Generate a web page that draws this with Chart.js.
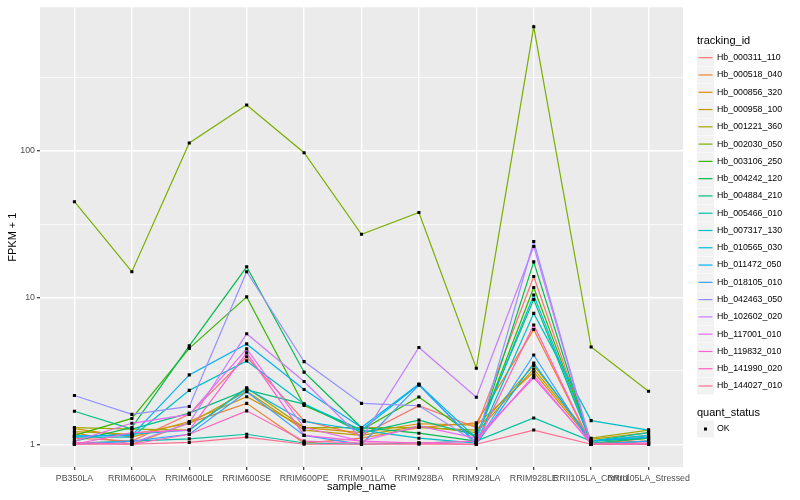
<!DOCTYPE html>
<html>
<head>
<meta charset="utf-8">
<script src="https://cdn.jsdelivr.net/npm/chart.js@4.4.0/dist/chart.umd.min.js"></script>
<style>
  html, body { margin: 0; background: #fff; }
  #wrap { width: 800px; height: 500px; }
</style>
</head>
<body>
<div id="wrap"><canvas id="chart" width="800" height="500"></canvas></div>
<script>
const categories = ["PB350LA", "RRIM600LA", "RRIM600LE", "RRIM600SE", "RRIM600PE", "RRIM901LA",
  "RRIM928BA", "RRIM928LA", "RRIM928LE", "RRII105LA_Control", "RRII105LA_Stressed"];

const trackingIds = ["Hb_000311_110", "Hb_000518_040", "Hb_000856_320", "Hb_000958_100", "Hb_001221_360",
  "Hb_002030_050", "Hb_003106_250", "Hb_004242_120", "Hb_004884_210", "Hb_005466_010",
  "Hb_007317_130", "Hb_010565_030", "Hb_011472_050", "Hb_018105_010", "Hb_042463_050",
  "Hb_102602_020", "Hb_117001_010", "Hb_119832_010", "Hb_141990_020", "Hb_144027_010"];

const colours = ["#F8766D", "#EA8331", "#D89000", "#C09B00", "#A3A500", "#7CAE00", "#39B600", "#00BB4E",
  "#00BF7D", "#00C1A3", "#00BFC4", "#00BAE0", "#00B0F6", "#35A2FF", "#9590FF", "#C77CFF",
  "#E76BF3", "#FA62DB", "#FF62BC", "#FF6C91"];

// FPKM + 1 per sample, one array per gene
const hb000311 = [1.10, 1.05, 1.60, 3.95, 1.45, 1.15, 1.83, 1.30, 13.9, 1.02, 1.05];
const hb000518 = [1.20, 1.00, 1.40, 1.90, 1.02, 1.10, 1.30, 1.40, 6.05, 1.00, 1.10];
const hb000856 = [1.28, 1.12, 1.43, 2.11, 1.30, 1.20, 1.38, 1.35, 3.10, 1.05, 1.15];
const hb000958 = [1.22, 1.17, 1.39, 2.30, 1.25, 1.15, 1.33, 1.20, 3.26, 1.08, 1.20];
const hb001221 = [1.30, 1.27, 1.25, 2.43, 1.30, 1.30, 1.30, 1.25, 3.45, 1.10, 1.25];
const hb002030 = [45, 15, 113, 205, 97, 27, 38, 3.3, 700, 4.6, 2.3];
const hb003106 = [1.15, 1.50, 4.50, 10.1, 1.84, 1.25, 2.10, 1.10, 11.7, 1.05, 1.10];
const hb004242 = [1.05, 1.30, 4.68, 16.2, 3.10, 1.30, 1.19, 1.05, 17.5, 1.00, 1.05];
const hb004884 = [1.68, 1.27, 1.63, 2.35, 1.88, 1.20, 1.46, 1.15, 9.70, 1.02, 1.10];
const hb005466 = [1.02, 1.05, 1.09, 1.17, 1.02, 1.00, 1.02, 1.05, 1.51, 1.05, 1.20];
const hb007317 = [1.12, 1.12, 2.33, 3.70, 1.88, 1.25, 1.10, 1.02, 7.80, 1.45, 1.25];
const hb010565 = [1.13, 1.17, 1.25, 2.40, 1.43, 1.25, 2.55, 1.10, 10.4, 1.05, 1.15];
const hb011472 = [1.14, 1.15, 2.97, 4.83, 2.36, 1.30, 2.57, 1.00, 3.58, 1.05, 1.12];
const hb018105 = [1.00, 1.05, 1.17, 2.28, 1.15, 1.00, 2.53, 1.02, 4.06, 1.00, 1.05];
const hb042463 = [2.15, 1.60, 1.81, 15.0, 3.66, 1.90, 1.83, 1.03, 24.1, 1.00, 1.00];
const hb102602 = [1.00, 1.02, 1.40, 5.67, 2.68, 1.10, 4.57, 2.09, 22.3, 1.00, 1.02];
const hb117001 = [1.05, 1.39, 1.60, 4.47, 1.30, 1.05, 1.33, 1.10, 2.84, 1.02, 1.00];
const hb119832 = [1.00, 1.20, 1.25, 4.20, 1.15, 1.05, 1.02, 1.05, 2.95, 1.00, 1.00];
const hb141990 = [1.03, 1.00, 1.17, 1.69, 1.05, 1.02, 1.02, 1.00, 6.50, 1.00, 1.02];
const hb144027 = [1.00, 1.00, 1.03, 1.12, 1.00, 1.00, 1.00, 1.00, 1.25, 1.00, 1.00];

const seriesValues = [hb000311, hb000518, hb000856, hb000958, hb001221, hb002030, hb003106, hb004242,
  hb004884, hb005466, hb007317, hb010565, hb011472, hb018105, hb042463, hb102602, hb117001,
  hb119832, hb141990, hb144027];

const yMajor = [1, 10, 100];
const yMinor = [3.1623, 31.623, 316.23];

const FONT = '"Liberation Sans", Arial, sans-serif';

const lineSets = seriesValues.map((vals, i) => ({
  type: "line",
  label: trackingIds[i],
  data: vals.map((v, j) => ({ x: j, y: v })),
  borderColor: colours[i],
  borderWidth: 1.2,
  pointRadius: 0,
  tension: 0,
  fill: false,
  order: 100 - i,
}));

const pointSet = {
  type: "scatter",
  label: "OK",
  data: seriesValues.flatMap((vals) => vals.map((v, j) => ({ x: j, y: v }))),
  pointStyle: "rect",
  pointRadius: 2.2,
  backgroundColor: "#000",
  borderWidth: 0,
  showLine: false,
  order: 0,
};

const panelBg = {
  id: "panelBg",
  beforeDraw(chart) {
    const { ctx, chartArea: a } = chart;
    ctx.save();
    ctx.fillStyle = "#EBEBEB";
    ctx.fillRect(a.left, a.top, a.right - a.left, a.bottom - a.top);
    ctx.restore();
  },
};

const sideLegend = {
  id: "sideLegend",
  afterDraw(chart) {
    const ctx = chart.ctx;
    const x0 = 697;
    ctx.save();
    ctx.textBaseline = "middle";
    ctx.textAlign = "left";
    ctx.fillStyle = "#000";
    ctx.font = "11px " + FONT;
    ctx.fillText("tracking_id", x0, 40.5);
    ctx.font = "8.8px " + FONT;
    lineSets.forEach((ds, i) => {
      const yc = 57.7 + i * 17.28;
      ctx.fillStyle = "#F2F2F2";
      ctx.fillRect(x0, yc - 8.4, 17, 16.8);
      ctx.strokeStyle = ds.borderColor;
      ctx.lineWidth = 1.2;
      ctx.beginPath();
      ctx.moveTo(x0 + 1.5, yc);
      ctx.lineTo(x0 + 15.5, yc);
      ctx.stroke();
      ctx.fillStyle = "#000";
      ctx.fillText(ds.label, x0 + 20, yc);
    });
    ctx.font = "11px " + FONT;
    ctx.fillText("quant_status", x0, 412.7);
    ctx.fillStyle = "#F2F2F2";
    ctx.fillRect(x0, 420.6, 17, 16.8);
    ctx.fillStyle = "#000";
    ctx.fillRect(x0 + 7, 427.5, 3, 3);
    ctx.font = "8.8px " + FONT;
    ctx.fillText(pointSet.label, x0 + 20, 429);
    ctx.restore();
  },
};

new Chart(document.getElementById("chart"), {
  type: "line",
  data: { datasets: [...lineSets, pointSet] },
  options: {
    responsive: false,
    animation: false,
    devicePixelRatio: 1,
    layout: { padding: { left: 0, top: 5, right: 117, bottom: 0 } },
    plugins: { legend: { display: false }, tooltip: { enabled: false } },
    scales: {
      x: {
        type: "linear",
        min: -0.6,
        max: 10.6,
        afterBuildTicks: (s) => { s.ticks = categories.map((c, i) => ({ value: i })); },
        afterFit: (s) => { s.height = 33; },
        ticks: {
          autoSkip: false,
          maxRotation: 0,
          minRotation: 0,
          padding: 3,
          color: "#4D4D4D",
          font: { family: FONT, size: 8.8 },
          callback: (v) => categories[v],
        },
        grid: { color: "#FFFFFF", lineWidth: 1.4, tickColor: "#333333", tickLength: 3, tickWidth: 1.2 },
        border: { display: false },
        title: { display: true, text: "sample_name", color: "#000", font: { family: FONT, size: 11 }, padding: { top: 0, bottom: 6 } },
      },
      y: {
        type: "logarithmic",
        min: 0.733,
        max: 951,
        afterBuildTicks: (s) => {
          s.ticks = [...yMajor, ...yMinor].sort((a, b) => a - b).map((v) => ({ value: v }));
        },
        afterFit: (s) => { s.width = 40; },
        ticks: {
          padding: 2,
          color: "#4D4D4D",
          font: { family: FONT, size: 8.8 },
          callback: (v) => (yMajor.includes(v) ? String(v) : ""),
        },
        grid: {
          color: "#FFFFFF",
          lineWidth: (c) => (c.tick && yMajor.includes(c.tick.value) ? 1.4 : 0.7),
          tickColor: (c) => (c.tick && yMajor.includes(c.tick.value) ? "#333333" : "rgba(0,0,0,0)"),
          tickLength: 3,
          tickWidth: 1.2,
        },
        border: { display: false },
        title: { display: true, text: "FPKM + 1", color: "#000", font: { family: FONT, size: 11 }, padding: { top: 6, bottom: 0 } },
      },
    },
  },
  plugins: [panelBg, sideLegend],
});
</script>
</body>
</html>
